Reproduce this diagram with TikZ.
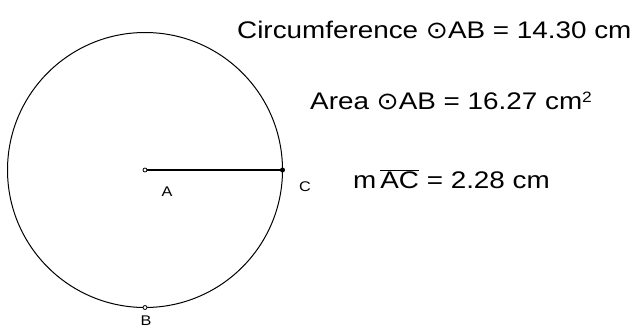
\documentclass[tikz,border=0pt]{standalone}
\usepackage{fontspec}
\setmainfont{Liberation Sans}
\newfontfamily\measfont[FakeStretch=1.16]{Liberation Sans}
\newfontfamily\dejavu[FakeStretch=1.1]{DejaVu Sans}
\newcommand{\odotsym}{{\dejavu ⊙}}
\newcommand{\supertwo}{\raisebox{0.55ex}{\fontsize{15}{16}\selectfont 2}}
\begin{document}
\begin{tikzpicture}[x=1pt,y=-1pt,
  meas/.style={font=\measfont\fontsize{24}{26}\selectfont, inner sep=0pt, anchor=west},
  ptlabel/.style={font=\measfont\fontsize{14}{16}\selectfont, inner sep=0pt},
  hollow/.style={circle, draw, fill=white, inner sep=0pt, minimum size=4pt, line width=0.8pt},
  solid/.style={circle, fill=black, inner sep=0pt, minimum size=5pt}]
\useasboundingbox (0,0) rectangle (642,329);
\coordinate (O) at (145,170);
\draw[line width=1pt] (O) circle (137.5);
\node[solid] (C) at (282.5,170) {};
\draw[line width=1.2pt] (O) -- (C.center);
\node[hollow] (A) at (O) {};
\node[hollow] (B) at (145,307.5) {};
\node[ptlabel] (lA) at (167,192) {A};
\node[ptlabel] (lC) at (305,187) {C};
\node[ptlabel] (lB) at (146,321) {B};
\node[meas] (circ) at (237,30) {Circumference \odotsym AB = 14.30 cm};
\node[meas] (area) at (310,101) {Area \odotsym AB = 16.27 cm\supertwo};
\node[meas] (mac) at (353,179) {m\,$\overline{\mbox{AC}}$ = 2.28 cm};
\end{tikzpicture}
\end{document}
